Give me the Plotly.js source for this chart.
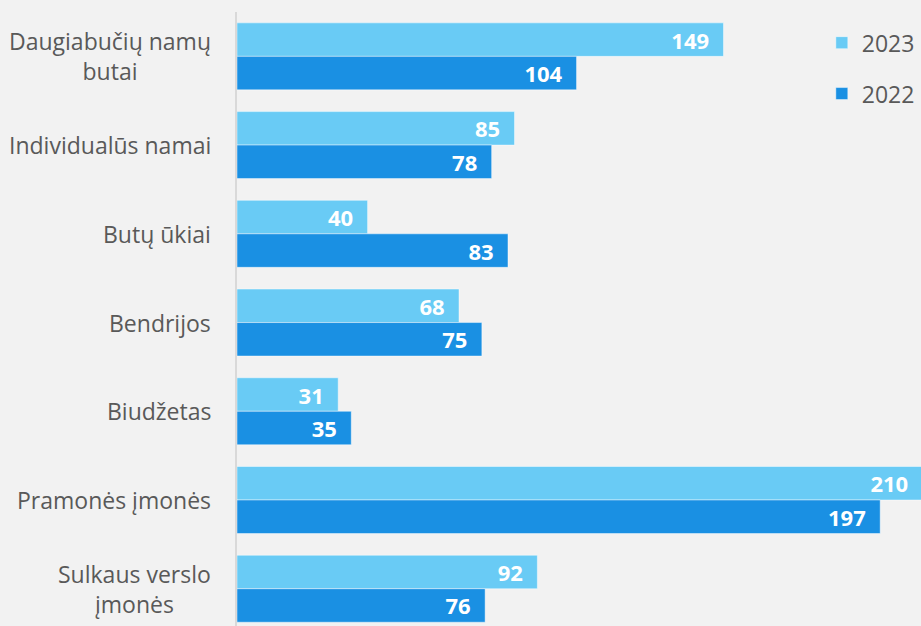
<!DOCTYPE html>
<html>
<head>
<meta charset="utf-8">
<script src="https://cdn.plot.ly/plotly-3.0.1.min.js"></script>
<style>html,body{margin:0;padding:0;background:#f2f2f2;}#chart{width:921px;height:626px;}</style>
</head>
<body>
<div id="chart"></div>
<script>
const categories = ["Daugiabučių namų<br>butai", "Individualūs namai", "Butų ūkiai", "Bendrijos", "Biudžetas", "Pramonės įmonės", "Sulkaus verslo<br>įmonės"];
const values2023 = [149, 85, 40, 68, 31, 210, 92];
const values2022 = [104, 78, 83, 75, 35, 197, 76];
const seriesNames = ["2023", "2022"];

const fontFam = "'Open Sans', 'DejaVu Sans', sans-serif";
const textGrey = "#595959";
const pad = "\u00a0\u00a0";

function barTrace(name, vals, color, group) {
  return {
    type: 'bar', orientation: 'h', name: name, legendgroup: group,
    y: categories, x: vals,
    marker: {color: color, line: {color: 'rgba(255,255,255,0.45)', width: 1}},
    text: vals.map(v => String(v) + pad), textposition: 'inside', insidetextanchor: 'end',
    constraintext: 'none',
    textfont: {color: '#ffffff', size: 22, family: fontFam, weight: 700},
    textangle: 0, hoverinfo: 'none'
  };
}
const t2023 = barTrace(seriesNames[0], values2023, '#69cbf5', 'a');
const t2022 = barTrace(seriesNames[1], values2022, '#1a90e3', 'b');

const annotations = categories.map(c => ({
  xref: 'paper', yref: 'y', x: 0, y: c, xanchor: 'right', yanchor: 'middle',
  xshift: -24, text: c, showarrow: false, align: 'center',
  font: {family: fontFam, size: 23, color: textGrey}
}));

const layout = {
  width: 921, height: 626,
  margin: {l: 237, r: 0, t: 12, b: 0, pad: 0},
  paper_bgcolor: '#f2f2f2', plot_bgcolor: '#f2f2f2',
  barmode: 'group', bargap: 0.245, bargroupgap: 0,
  font: {family: fontFam, color: textGrey},
  xaxis: {range: [0, 209.5], showgrid: false, zeroline: false, showticklabels: false, showline: false, fixedrange: true},
  yaxis: {type: 'category', range: [6.42, -0.5], showticklabels: false, showgrid: false, zeroline: false,
          showline: true, linecolor: '#d9d9d9', linewidth: 2, ticks: '', fixedrange: true},
  showlegend: true,
  legend: {x: 0.855, xanchor: 'left', y: 0.985, yanchor: 'top', bgcolor: 'rgba(0,0,0,0)',
           font: {family: fontFam, size: 23, color: textGrey}, traceorder: 'grouped', tracegroupgap: 18},
  annotations: annotations
};

Plotly.newPlot('chart', [t2023, t2022], layout, {displayModeBar: false, staticPlot: true});
</script>
</body>
</html>
